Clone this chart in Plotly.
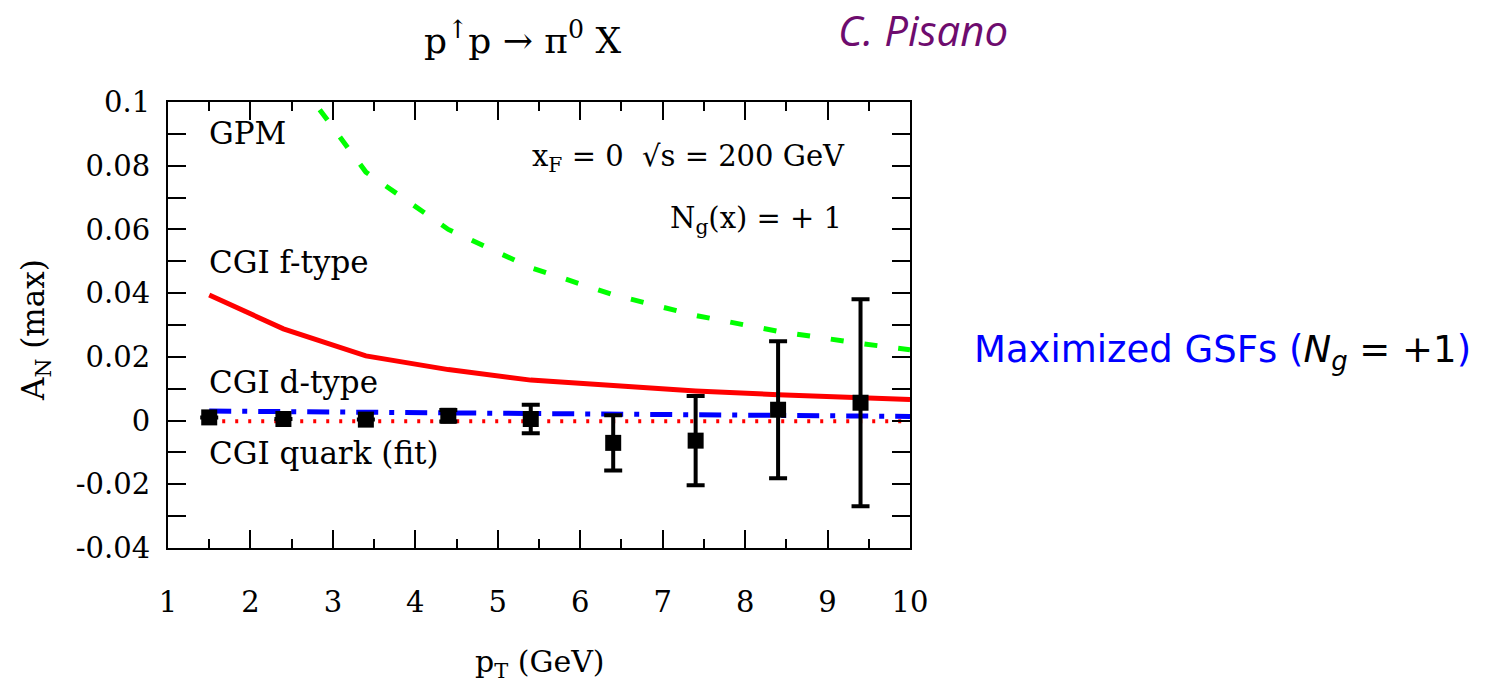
import plotly.graph_objects as go

# ---- data ----
pt_data = [1.5, 2.4, 3.4, 4.4, 5.4, 6.4, 7.4, 8.4, 9.4]
an_data = [0.001, 0.0005, 0.0003, 0.0015, 0.0005, -0.0070, -0.0063, 0.0034, 0.0056]
an_err = [0.0, 0.0, 0.0, 0.0018, 0.0045, 0.0087, 0.0140, 0.0215, 0.0325]

pt_curve = [1.5, 2.4, 3.4, 4.4, 5.4, 6.4, 7.4, 8.4, 9.4, 10.0]
gpm = [0.175, 0.113, 0.078, 0.060, 0.048, 0.0395, 0.033, 0.028, 0.0242, 0.0222]
cgi_f = [0.0394, 0.0288, 0.0203, 0.0160, 0.0127, 0.0110, 0.0093, 0.0081, 0.0072, 0.0066]
cgi_d = [0.0030, 0.0028, 0.0025, 0.0022, 0.0020, 0.0018, 0.0016, 0.0015, 0.0014, 0.0013]
cgi_q = [-0.0002, -0.0002, -0.0002, -0.0002, -0.0002, -0.0002, -0.0002, -0.0002, -0.0002, -0.0002]

x_tickvals = [1, 2, 3, 4, 5, 6, 7, 8, 9, 10]
x_ticktext = ["1", "2", "3", "4", "5", "6", "7", "8", "9", "10"]
y_tickvals = [0.1, 0.08, 0.06, 0.04, 0.02, 0, -0.02, -0.04]
y_ticktext = ["0.1", "0.08", "0.06", "0.04", "0.02", "0", "-0.02", "-0.04"]

OFF = 8  # page body margin of the html page
W, H = 1508 - OFF, 687 - OFF
L, R, T, B = 168, 910, 102, 548
SERIF = "DejaVu Serif"


def px(x):
    return (x - L) / (R - L)


def py(y):
    return (B - y) / (B - T)


fig = go.Figure()
fig.add_trace(go.Scatter(x=pt_curve, y=gpm, mode="lines",
                         line=dict(color="#00ff00", width=5, dash="13px,21px")))
fig.add_trace(go.Scatter(x=pt_curve, y=cgi_f, mode="lines",
                         line=dict(color="#ff0000", width=5)))
fig.add_trace(go.Scatter(x=pt_curve, y=cgi_q, mode="lines",
                         line=dict(color="#ff0000", width=4, dash="3px,10px")))
fig.add_trace(go.Scatter(x=pt_curve, y=cgi_d, mode="lines",
                         line=dict(color="#0000ff", width=5, dash="22px,11px,5px,11px")))
fig.add_trace(go.Scatter(x=pt_data, y=an_data, mode="markers",
                         marker=dict(symbol="square", size=16, color="black"),
                         error_y=dict(type="data", array=an_err, color="black",
                                      thickness=4, width=9),
                         cliponaxis=False))

fig.update_layout(
    width=W, height=H,
    margin=dict(l=L - OFF, r=1508 - R, t=T - OFF, b=687 - B),
    paper_bgcolor="white", plot_bgcolor="white",
    showlegend=False,
    font=dict(family=SERIF, size=29, color="black"),
)
fig.update_xaxes(range=[1, 10], tickvals=x_tickvals, ticktext=x_ticktext,
                 ticks="inside", ticklen=18, tickwidth=2, tickcolor="black",
                 minor=dict(dtick=0.5, ticks="inside", ticklen=9, tickwidth=2, tickcolor="black"),
                 showline=True, linewidth=2, linecolor="black", mirror="allticks",
                 showgrid=False, zeroline=False, ticklabelstandoff=27,
                 tickfont=dict(family=SERIF, size=29))
fig.update_yaxes(range=[-0.04, 0.1], tickvals=y_tickvals, ticktext=y_ticktext,
                 ticks="inside", ticklen=18, tickwidth=2, tickcolor="black",
                 minor=dict(dtick=0.01, ticks="inside", ticklen=18, tickwidth=2, tickcolor="black"),
                 showline=True, linewidth=2, linecolor="black", mirror="allticks",
                 showgrid=False, zeroline=False, ticklabelstandoff=10,
                 tickfont=dict(family=SERIF, size=29))

ann = [
    dict(text="GPM", x=207, y=133, xanchor="left", size=31),
    dict(text="CGI f-type", x=207, y=262, xanchor="left", size=31),
    dict(text="CGI d-type", x=207, y=382, xanchor="left", size=31),
    dict(text="CGI quark (fit)", x=207, y=453, xanchor="left", size=31),
    dict(text="x<sub>F</sub> = 0  √s = 200 GeV", x=530, y=158, xanchor="left", size=29),
    dict(text="N<sub>g</sub>(x) = + 1", x=668, y=220, xanchor="left", size=29),
    dict(text="p<sup>↑</sup>p → π<sup>0</sup> X", x=522, y=38, xanchor="center", size=36),
    dict(text="p<sub>T</sub> (GeV)", x=540, y=664, xanchor="center", size=30),
]
for a in ann:
    fig.add_annotation(text=a["text"], x=px(a["x"]), y=py(a["y"]), xref="paper", yref="paper",
                       xanchor=a["xanchor"], yanchor="middle", showarrow=False,
                       font=dict(family=SERIF, size=a["size"], color="black"))

fig.add_annotation(text="A<sub>N</sub> (max)", x=px(35), y=py(330), xref="paper", yref="paper",
                   xanchor="center", yanchor="middle", textangle=-90, showarrow=False,
                   font=dict(family=SERIF, size=31, color="black"))
fig.add_annotation(text="<i>C. Pisano</i>", x=px(836), y=py(30), xref="paper", yref="paper",
                   xanchor="left", yanchor="middle", showarrow=False,
                   font=dict(family="Open Sans", size=42, color="#6e0c6e"))
fig.add_annotation(text="Maximized GSFs (<span style='color:black'><i>N<sub>g</sub></i>&nbsp;=&nbsp;+1</span>)",
                   x=px(972), y=py(352), xref="paper", yref="paper",
                   xanchor="left", yanchor="middle", showarrow=False,
                   font=dict(family="DejaVu Sans", size=37, color="#0000ff"))

fig.write_html("out.html")
